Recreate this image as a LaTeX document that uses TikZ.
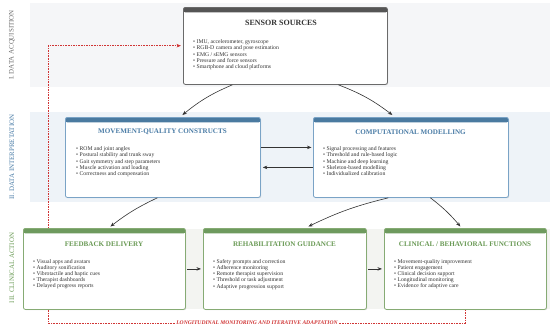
\documentclass[tikz,border=0pt]{standalone}
\usepackage{fontspec}
\setmainfont{Liberation Serif}
\usetikzlibrary{arrows.meta,shadows}
\definecolor{bandA}{HTML}{F5F6F8}
\definecolor{bandB}{HTML}{EEF3F8}
\definecolor{bandC}{HTML}{F3F4F1}
\definecolor{grayH}{HTML}{555555}
\definecolor{grayB}{HTML}{6A6A6A}
\definecolor{blueH}{HTML}{4A7AA0}
\definecolor{blueB}{HTML}{7AA3C6}
\definecolor{blueT}{HTML}{4A7CA6}
\definecolor{greenH}{HTML}{6E9A5E}
\definecolor{greenB}{HTML}{86AB74}
\definecolor{greenT}{HTML}{6A9A55}
\definecolor{loopred}{HTML}{D03535}
\definecolor{txt}{HTML}{333333}
\tikzset{
  panel/.style 2 args={draw=#1, line width=0.8pt, rounded corners=2pt, fill=white,
    anchor=north west, inner sep=0pt,
    drop shadow={shadow xshift=0.8pt, shadow yshift=-0.8pt, opacity=0.25},
    path picture={\fill[#2] (path picture bounding box.north west) rectangle ([yshift=-5pt]path picture bounding box.north east);}},
  ttl/.style={font=\fontsize{7.1}{8}\selectfont\bfseries, inner sep=0pt},
  blist/.style={font=\fontsize{5.7}{6.2}\selectfont, text=txt, align=left, anchor=north west, inner sep=0pt},
  bandlbl/.style={rotate=90, font=\fontsize{6.9}{7}\selectfont, inner sep=0pt},
  conn/.style={draw=txt, line width=0.6pt, -{Stealth[length=4.5pt,width=3.5pt]}},
  fbloop/.style={draw=loopred, line width=0.6pt, dashed, dash pattern=on 1.6pt off 1pt, -{Stealth[length=4.5pt,width=3.5pt]}},
}
\begin{document}
\begin{tikzpicture}[x=1pt,y=-1pt]
\useasboundingbox (0,0) rectangle (550,333);
% bands
\fill[bandA] (30,3) rectangle (550,87);
\fill[bandB] (30,112) rectangle (550,202);
\fill[bandC] (30,229) rectangle (550,309);
\node[bandlbl, text=grayB] (lblA) at (12,45) {I. DATA ACQUISITION};
\node[bandlbl, text=blueT] (lblB) at (12,157) {II. DATA INTERPRETATION};
\node[bandlbl, text=greenT] (lblC) at (12,268) {III. CLINICAL ACTION};
% loop coordinates
\coordinate (loopB) at (48,323);
% box positions
\path (183,7) coordinate (pS) (65,117) coordinate (pM) (313,117) coordinate (pC)
      (23,228) coordinate (pF) (203,228) coordinate (pR) (384,228) coordinate (pK);
% feedback loop drawn under boxes
\node[draw=none, inner sep=0pt, minimum width=204pt, minimum height=77pt, anchor=north west] (sensorTmp) at (pS) {};
\node[draw=none, inner sep=0pt, minimum width=162pt, minimum height=81pt, anchor=north west] (clinicalTmp) at (pK) {};
\draw[fbloop] (clinicalTmp.south) -- (clinicalTmp.south |- loopB) -- (loopB) -- (loopB |- sensorTmp.west) -- ([xshift=-2pt]sensorTmp.west);
\node[fill=white, inner sep=1.5pt, text=loopred, font=\fontsize{5.6}{6}\selectfont\bfseries\itshape] (loopLbl) at (257,323) {LONGITUDINAL MONITORING AND ITERATIVE ADAPTATION};
% panels
\node[panel={grayB}{grayH}, minimum width=204pt, minimum height=77pt] (sensor) at (pS) {};
\node[panel={blueB}{blueH}, minimum width=195pt, minimum height=80pt] (move) at (pM) {};
\node[panel={blueB}{blueH}, minimum width=195pt, minimum height=80pt] (comp) at (pC) {};
\node[panel={greenB}{greenH}, minimum width=162pt, minimum height=81pt] (feed) at (pF) {};
\node[panel={greenB}{greenH}, minimum width=163pt, minimum height=81pt] (rehab) at (pR) {};
\node[panel={greenB}{greenH}, minimum width=162pt, minimum height=81pt] (clin) at (pK) {};
% titles
\node[ttl, text=txt, font=\fontsize{8}{9}\selectfont\bfseries] (sensorT) at (281,23) {SENSOR SOURCES};
\node[ttl, text=blueT] (moveT) at (162.5,132) {MOVEMENT-QUALITY CONSTRUCTS};
\node[ttl, text=blueT] (compT) at (410.5,132) {COMPUTATIONAL MODELLING};
\node[ttl, text=greenT] (feedT) at (104,244) {FEEDBACK DELIVERY};
\node[ttl, text=greenT] (rehabT) at (284.5,244) {REHABILITATION GUIDANCE};
\node[ttl, text=greenT] (clinT) at (465,244) {CLINICAL / BEHAVIORAL FUNCTIONS};
% lists
\node[blist] (sensorL) at (193,39.5) {• IMU, accelerometer, gyroscope\\• RGB-D camera and pose estimation\\• EMG / sEMG sensors\\• Pressure and force sensors\\• Smartphone and cloud platforms};
\node[blist] (moveL) at (76,146.5) {• ROM and joint angles\\• Postural stability and trunk sway\\• Gait symmetry and step parameters\\• Muscle activation and loading\\• Correctness and compensation};
\node[blist] (compL) at (323,146.5) {• Signal processing and features\\• Threshold and rule-based logic\\• Machine and deep learning\\• Skeleton-based modelling\\• Individualized calibration};
\node[blist] (feedL) at (33,259) {• Visual apps and avatars\\• Auditory sonification\\• Vibrotactile and haptic cues\\• Therapist dashboards\\• Delayed progress reports};
\node[blist] (rehabL) at (213,259) {• Safety prompts and correction\\• Adherence monitoring\\• Remote therapist supervision\\• Threshold or task adjustment\\• Adaptive progression support};
\node[blist] (clinL) at (394,259) {• Movement-quality improvement\\• Patient engagement\\• Clinical decision support\\• Longitudinal monitoring\\• Evidence for adaptive care};
% connectors
\draw[conn] ([xshift=-53pt]sensor.south) to[bend right=8] ([xshift=19.5pt,yshift=2pt]move.north);
\draw[conn] ([xshift=53pt]sensor.south) to[bend left=8] ([xshift=-18.5pt,yshift=2pt]comp.north);
\draw[conn] ([yshift=10pt]move.east) -- ([yshift=10pt,xshift=-1.5pt]comp.west);
\draw[conn] ([yshift=-10pt]comp.west) -- ([yshift=-10pt,xshift=2pt]move.east);
\draw[conn] ([xshift=-5.5pt]move.south) to[bend right=6] ([xshift=6pt,yshift=1.5pt]feed.north);
\draw[conn] ([xshift=-22.5pt]comp.south) to[bend right=6] ([xshift=23.5pt,yshift=1.5pt]rehab.north);
\draw[conn] ([xshift=19.5pt]comp.south) to[bend left=6] ([xshift=-5pt,yshift=1.5pt]clin.north);
\draw[conn] ([xshift=1.5pt]feed.east) -- ([xshift=-2pt]rehab.west);
\draw[conn] ([xshift=1.5pt]rehab.east) -- ([xshift=-2pt]clin.west);
\end{tikzpicture}
\end{document}
